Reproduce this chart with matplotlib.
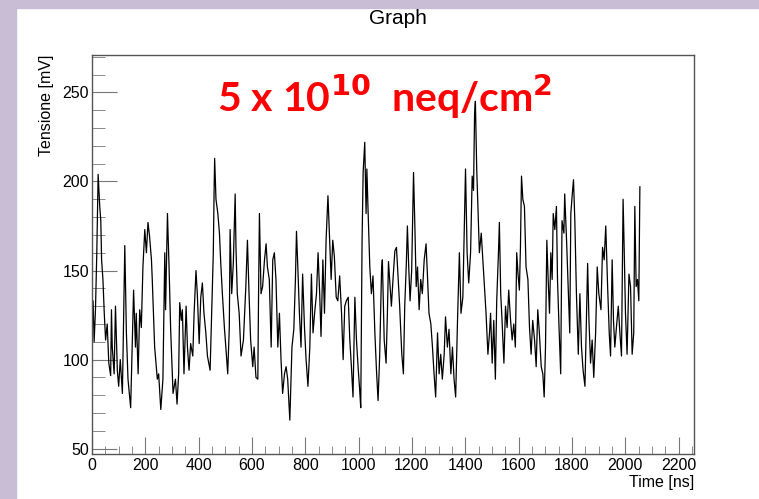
import matplotlib.pyplot as plt
from matplotlib.patches import Rectangle
from matplotlib.ticker import MultipleLocator

# waveform: time in ns, voltage in mV
time_ns = [
    0, 4, 8, 13, 18, 23, 29, 33, 36, 41, 46, 51, 57, 63, 70, 73, 76, 83, 88, 95,
    100, 106, 114, 123, 129, 135, 145, 156, 163, 166, 173, 179, 185, 191, 198, 204, 210, 216, 223, 226,
    235, 245, 250, 258, 266, 273, 276, 283, 289, 295, 304, 313, 319, 325, 329, 335, 339, 345, 353, 358,
    364, 370, 378, 383, 390, 395, 402, 408, 414, 420, 427, 433, 443, 449, 455, 458, 460, 465, 472, 478,
    483, 489, 497, 503, 509, 515, 518, 524, 530, 537, 540, 545, 552, 559, 568, 577, 583, 589, 595, 603,
    608, 615, 622, 625, 628, 634, 640, 647, 653, 658, 665, 672, 678, 684, 690, 697, 703, 709, 715, 722,
    728, 734, 742, 750, 757, 763, 767, 772, 778, 784, 790, 797, 803, 810, 817, 823, 829, 835, 842, 848,
    854, 859, 866, 872, 878, 885, 891, 897, 903, 909, 916, 922, 929, 936, 942, 948, 954, 961, 967, 973,
    979, 986, 992, 998, 1004, 1008, 1013, 1017, 1023, 1028, 1031, 1035, 1042, 1048, 1054, 1061, 1067, 1073, 1079, 1086,
    1089, 1096, 1103, 1108, 1112, 1118, 1123, 1129, 1136, 1142, 1148, 1154, 1162, 1168, 1173, 1179, 1183, 1188, 1193, 1199,
    1206, 1211, 1216, 1221, 1227, 1233, 1239, 1246, 1253, 1258, 1264, 1271, 1277, 1283, 1289, 1296, 1302, 1308, 1314, 1321,
    1326, 1333, 1339, 1346, 1352, 1358, 1364, 1371, 1378, 1384, 1391, 1397, 1401, 1407, 1413, 1420, 1426, 1431, 1435, 1438,
    1443, 1448, 1453, 1460, 1466, 1472, 1478, 1485, 1491, 1495, 1501, 1507, 1513, 1518, 1525, 1528, 1533, 1538, 1545, 1551,
    1557, 1563, 1570, 1576, 1582, 1588, 1593, 1598, 1603, 1607, 1611, 1616, 1622, 1628, 1635, 1641, 1647, 1653, 1660, 1666,
    1672, 1678, 1685, 1691, 1696, 1701, 1706, 1711, 1716, 1721, 1726, 1730, 1736, 1742, 1746, 1752, 1758, 1763, 1770, 1773,
    1780, 1786, 1792, 1796, 1801, 1806, 1811, 1817, 1824, 1830, 1836, 1842, 1849, 1855, 1859, 1864, 1870, 1876, 1882, 1889,
    1895, 1901, 1909, 1915, 1921, 1927, 1934, 1940, 1945, 1951, 1956, 1961, 1967, 1974, 1980, 1986, 1992, 1996, 2001, 2007,
    2014, 2020, 2026, 2032, 2036, 2041, 2046, 2051, 2055,
]
tensione_mv = [
    118, 133, 110, 128, 160, 204, 186, 178, 156, 145, 126, 111, 120, 98, 91, 128, 107, 92, 130, 94,
    85, 100, 81, 164, 115, 89, 73, 139, 107, 126, 92, 128, 118, 152, 173, 160, 177, 169, 156, 145,
    107, 89, 92, 72, 89, 160, 128, 182, 152, 117, 81, 89, 75, 92, 132, 122, 128, 92, 130, 107,
    94, 109, 102, 126, 150, 137, 109, 135, 143, 126, 115, 102, 94, 126, 160, 195, 213, 190, 182, 171,
    154, 137, 117, 105, 92, 118, 173, 137, 154, 193, 163, 137, 126, 102, 111, 141, 167, 137, 111, 96,
    107, 90, 89, 141, 182, 137, 141, 156, 165, 152, 145, 107, 156, 160, 145, 107, 126, 100, 81, 92,
    96, 89, 66, 107, 117, 145, 172, 152, 126, 107, 148, 118, 100, 85, 107, 148, 115, 126, 137, 160,
    137, 113, 156, 126, 167, 192, 169, 145, 167, 158, 135, 133, 147, 126, 100, 130, 133, 135, 111, 96,
    79, 135, 111, 96, 83, 73, 167, 205, 222, 182, 207, 186, 152, 137, 147, 115, 94, 77, 102, 150,
    156, 111, 98, 126, 155, 141, 130, 145, 161, 163, 147, 130, 103, 92, 130, 154, 175, 152, 133, 150,
    205, 175, 141, 152, 128, 145, 137, 156, 165, 148, 126, 120, 107, 92, 79, 115, 92, 103, 89, 103,
    124, 107, 117, 92, 107, 89, 79, 122, 160, 126, 135, 177, 207, 160, 143, 160, 203, 195, 238, 245,
    207, 184, 160, 171, 156, 141, 126, 103, 115, 126, 98, 122, 89, 133, 162, 177, 137, 122, 98, 130,
    118, 139, 122, 111, 120, 107, 160, 148, 139, 163, 203, 190, 186, 152, 145, 118, 103, 122, 111, 96,
    128, 115, 96, 92, 79, 107, 167, 145, 126, 160, 145, 182, 173, 186, 145, 117, 92, 178, 171, 193,
    167, 141, 115, 182, 192, 201, 178, 137, 103, 137, 107, 94, 85, 126, 154, 122, 98, 111, 90, 115,
    152, 137, 128, 163, 156, 175, 141, 115, 102, 156, 122, 107, 118, 130, 115, 102, 190, 163, 126, 103,
    148, 141, 103, 115, 186, 141, 145, 133, 197,
]

W, H = 759, 499
fig = plt.figure(figsize=(W / 100, H / 100), dpi=100)
fig.patch.set_facecolor('white')

# lavender slide border, left and top
lav = '#c9bdd6'
fig.patches.append(Rectangle((0, 0), 16 / W, 1, transform=fig.transFigure, color=lav, zorder=0))
fig.patches.append(Rectangle((0, 1 - 8 / H), 1, 8 / H, transform=fig.transFigure, color=lav, zorder=0))

# axes frame in pixels: left 92, right 694, top 55, bottom 454
ax = fig.add_axes([92 / W, 1 - 454 / H, (694 - 92) / W, (454 - 55) / H])
ax.plot(time_ns, tensione_mv, color='black', lw=0.9)

ax.set_xlim(0, 2258)
ax.set_ylim(47, 271)
ax.xaxis.set_major_locator(MultipleLocator(200))
ax.xaxis.set_minor_locator(MultipleLocator(50))
ax.yaxis.set_major_locator(MultipleLocator(50))
ax.yaxis.set_minor_locator(MultipleLocator(10))
ax.tick_params(which='both', direction='in', color='#777777', top=False, right=False,
               labelsize=11.5, labelfontfamily='Liberation Sans')
ax.tick_params(axis='x', which='major', length=12, pad=3)
ax.tick_params(axis='x', which='minor', length=6)
ax.tick_params(axis='y', which='major', length=18, pad=2)
ax.tick_params(axis='y', which='minor', length=9)
for s in ax.spines.values():
    s.set_color('#555555')
    s.set_linewidth(1)

fig.text(694 / W, 1 - 475 / H, 'Time [ns]', ha='right', va='top', fontsize=11.5,
         family='Liberation Sans')
fig.text(47 / W, 1 - 55 / H, 'Tensione [mV]', rotation=90, ha='center', va='top',
         fontsize=11.5, family='Liberation Sans')
fig.text(398 / W, 1 - 19 / H, 'Graph', ha='center', va='center', fontsize=15,
         family='Liberation Sans')

fig.text(217 / W, 1 - 97 / H, r'5 x 10$^{\mathbf{10}}$  neq/cm$^{\mathbf{2}}$', color='red',
         fontsize=29.5, fontweight='bold', family='Lato', ha='left', va='center')

fig.savefig('out.png', dpi=100)
